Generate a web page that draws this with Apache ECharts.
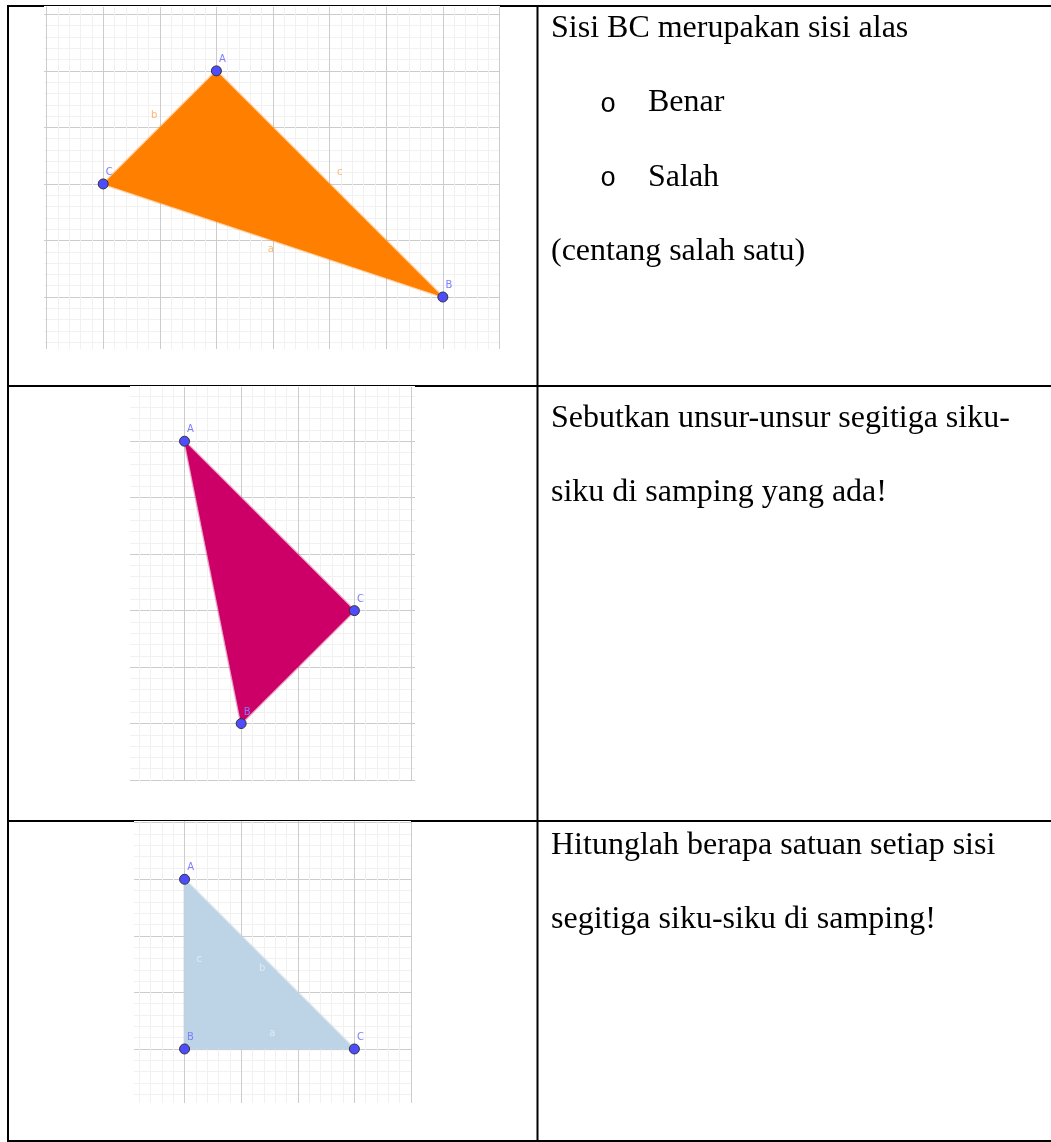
<!DOCTYPE html>
<html>
<head>
<meta charset="utf-8">
<style>
html, body { margin: 0; padding: 0; background: #fff; }
#chart { width: 1051px; height: 1142px; }
</style>
<script src="https://cdn.jsdelivr.net/npm/echarts@6/dist/echarts.min.js"></script>
</head>
<body>
<div id="chart"></div>
<script>
// triangle vertices, in grid units
var pointNames = ['A', 'B', 'C'];
var triangle1 = [[3, 5], [7, 1], [1, 3]];
var triangle2 = [[1, 6], [2, 1], [4, 3]];
var triangle3 = [[1, 4], [1, 1], [4, 1]];

// side labels
var sideNames = ['a', 'b', 'c'];
var sides1 = [[3.96, 1.85], [1.9, 4.22], [5.18, 3.21]];
var sides3 = [[2.55, 1.28], [2.37, 2.42], [1.26, 2.58]];

// major grid lines
var xMajor1 = [0, 1, 2, 3, 4, 5, 6, 7, 8];
var yMajor1 = [1, 2, 3, 4, 5, 6];
var xMajor2 = [1, 2, 3, 4, 5];
var yMajor2 = [0, 1, 2, 3, 4, 5, 6];
var xMajor3 = [1, 2, 3, 4, 5];
var yMajor3 = [1, 2, 3, 4, 5];

// text in the right column
var row1Text = ['Sisi BC merupakan sisi alas', '(centang salah satu)'];
var row1Options = ['Benar', 'Salah'];
var row2Text = ['Sebutkan unsur-unsur segitiga siku-', 'siku di samping yang ada!'];
var row3Text = ['Hitunglah berapa satuan setiap sisi', 'segitiga siku-siku di samping!'];

var myChart = echarts.init(document.getElementById('chart'));

// one fifth steps between the major lines
function minorTicks(min, max) {
    var out = [];
    for (var i = Math.ceil(min * 5); i <= max * 5; i++) {
        if (i % 5 !== 0) out.push(i / 5);
    }
    return out;
}

var panels = [
    { box: [44, 7, 456, 342], xr: [-0.046, 8.01], yr: [0.08, 6.13], xm: xMajor1, ym: yMajor1,
      tri: triangle1, fill: '#ff8000', edge: 'rgba(255,128,0,0.35)', sides: sides1, sideColor: '#ffa64d' },
    { box: [130, 387, 285, 394], xr: [0.037, 5.07], yr: [-0.017, 6.96], xm: xMajor2, ym: yMajor2,
      tri: triangle2, fill: '#cc0066', edge: 'rgba(204,0,102,0.35)', sides: [], sideColor: '#fff' },
    { box: [134, 821, 277, 282], xr: [0.107, 5.0], yr: [0.045, 5.03], xm: xMajor3, ym: yMajor3,
      tri: triangle3, fill: '#bdd3e6', edge: 'rgba(189,211,230,0.5)', sides: sides3, sideColor: '#e9f0f6' }
];

var grids = [], xAxes = [], yAxes = [], series = [];

function gridAxis(range, ticks, color) {
    return {
        type: 'value',
        min: range[0],
        max: range[1],
        axisLine: { show: false },
        axisLabel: { show: false },
        axisTick: { show: false, customValues: ticks },
        splitLine: { show: true, lineStyle: { color: color, width: 1 } }
    };
}

panels.forEach(function (p, i) {
    grids.push({ left: p.box[0], top: p.box[1], width: p.box[2], height: p.box[3] });
    var xa = Object.assign(gridAxis(p.xr, minorTicks(p.xr[0], p.xr[1]), '#f1f1f1'), { gridIndex: i });
    var xb = Object.assign(gridAxis(p.xr, p.xm, '#cccccc'), { gridIndex: i });
    var ya = Object.assign(gridAxis(p.yr, minorTicks(p.yr[0], p.yr[1]), '#f1f1f1'), { gridIndex: i });
    var yb = Object.assign(gridAxis(p.yr, p.ym, '#cccccc'), { gridIndex: i });
    xAxes.push(xa, xb);
    yAxes.push(ya, yb);
    var ax = i * 2;

    series.push({
        type: 'custom',
        xAxisIndex: ax,
        yAxisIndex: ax,
        z: 3,
        silent: true,
        data: [p.tri[0]],
        renderItem: function (params, api) {
            return {
                type: 'polygon',
                shape: { points: p.tri.map(function (v) { return api.coord(v); }) },
                style: { fill: p.fill, stroke: p.edge, lineWidth: 2.5 }
            };
        }
    });
    if (p.sides.length) {
        series.push({
            type: 'scatter',
            xAxisIndex: ax,
            yAxisIndex: ax,
            z: 4,
            symbolSize: 1,
            itemStyle: { color: 'rgba(0,0,0,0)' },
            data: p.sides.map(function (v, k) { return { name: sideNames[k], value: v }; }),
            label: { show: true, position: 'inside', formatter: '{b}', color: p.sideColor, fontSize: 10, fontFamily: 'DejaVu Sans' }
        });
    }
    series.push({
        type: 'scatter',
        xAxisIndex: ax,
        yAxisIndex: ax,
        z: 5,
        symbolSize: 10,
        itemStyle: { color: '#4d4dff', borderColor: '#333333', borderWidth: 1, opacity: 1 },
        data: p.tri.map(function (v, k) { return { name: pointNames[k], value: v }; }),
        label: { show: true, position: 'top', offset: [6, 4], formatter: '{b}', color: '#7d7dff', fontSize: 10, fontFamily: 'DejaVu Sans' }
    });
});

// table rules, thinner where the pictures overlap them
function rule(x1, y1, x2, y2, w) {
    return { type: 'line', z: 10, shape: { x1: x1, y1: y1, x2: x2, y2: y2 }, style: { stroke: '#000', lineWidth: w || 2 } };
}
function cellText(str, x, y, font) {
    return { type: 'text', z: 10, x: x, y: y, style: { text: str, fill: '#000', font: font || '32px "Liberation Serif"', textVerticalAlign: 'middle' } };
}

var graphics = [
    rule(8, 6, 44, 6), rule(44, 5.5, 500, 5.5, 1), rule(500, 6, 1051, 6),
    rule(8, 386, 130, 386), rule(130, 385.5, 415, 385.5, 1), rule(415, 386, 1051, 386),
    rule(8, 821, 134, 821), rule(134, 820.5, 411, 820.5, 1), rule(411, 821, 1051, 821),
    rule(8, 1141, 1051, 1141),
    rule(8, 5, 8, 1142),
    rule(537.5, 5, 537.5, 1142),
    cellText(row1Text[0], 551, 29),
    cellText('o', 600, 105, '27px "Liberation Mono"'),
    cellText(row1Options[0], 648, 103),
    cellText('o', 600, 179, '27px "Liberation Mono"'),
    cellText(row1Options[1], 648, 178),
    cellText(row1Text[1], 551, 252),
    cellText(row2Text[0], 551, 419),
    cellText(row2Text[1], 551, 493),
    cellText(row3Text[0], 551, 846),
    cellText(row3Text[1], 551, 920)
];

var option = {
    animation: false,
    backgroundColor: '#ffffff',
    grid: grids,
    xAxis: xAxes,
    yAxis: yAxes,
    series: series,
    graphic: { elements: graphics }
};
myChart.setOption(option, true);
</script>
</body>
</html>
